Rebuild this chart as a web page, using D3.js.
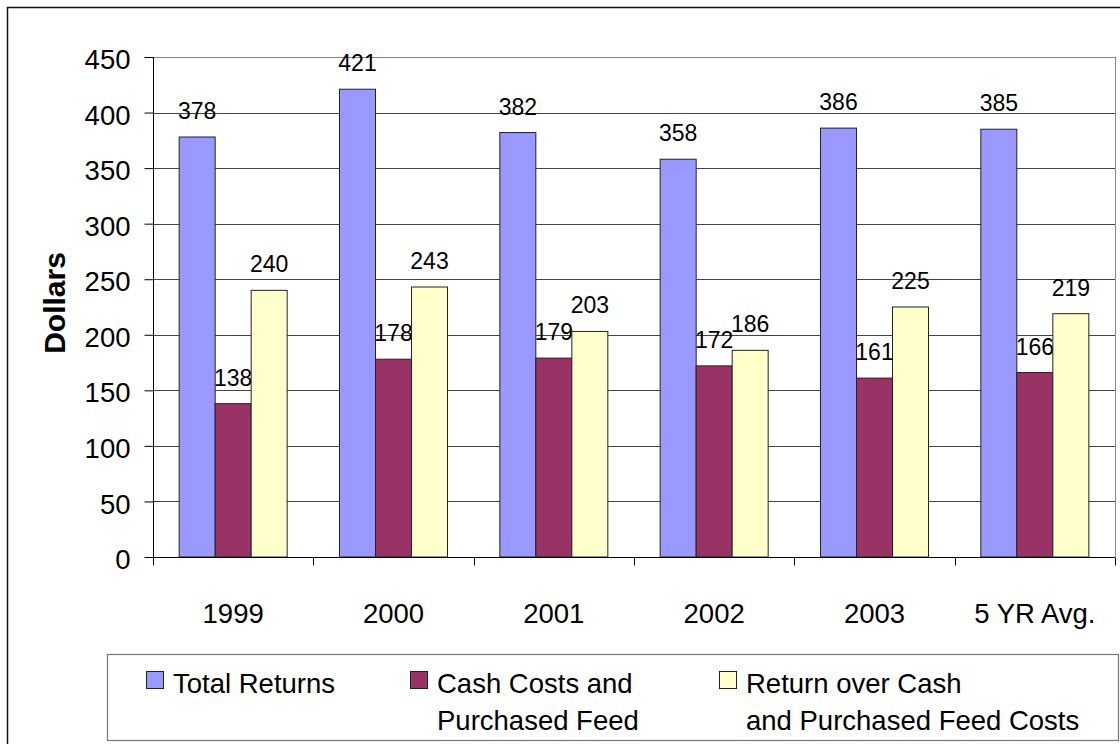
<!DOCTYPE html>
<html>
<head>
<meta charset="utf-8">
<script src="https://cdn.jsdelivr.net/npm/d3@7"></script>
<style>
  body { margin: 0; background: #fff; }
  text { font-family: "Liberation Sans", Arial, sans-serif; fill: #000; }
</style>
</head>
<body>
<div id="chart"></div>
<script>
var categories = ["1999", "2000", "2001", "2002", "2003", "5 YR Avg."];
var totalReturns = [378, 421, 382, 358, 386, 385];
var cashCosts = [138, 178, 179, 172, 161, 166];
var returnOver = [240, 243, 203, 186, 225, 219];
var seriesNames = ["Total Returns", "Cash Costs and|Purchased Feed", "Return over Cash|and Purchased Feed Costs"];
var color = ["#9999FF", "#993366", "#FFFFCC"];
var yTicks = [0, 50, 100, 150, 200, 250, 300, 350, 400, 450];

var series = [totalReturns, cashCosts, returnOver];

// plot area location
var plot = {left: 153, right: 1115, top: 57, bottom: 557};

var svg = d3.select("#chart")
  .append("svg")
    .attr("width", 1120)
    .attr("height", 744);

// outer chart border
svg.append("rect")
  .attr("x", 7.5).attr("y", 7.5)
  .attr("width", 1130).attr("height", 760)
  .attr("fill", "none")
  .attr("stroke", "#111")
  .attr("stroke-width", 1.5);

var x = d3.scaleBand()
  .domain(categories)
  .range([plot.left, plot.right])
  .padding(0);

var groupW = 108;
var x1 = d3.scaleBand()
  .domain([0, 1, 2])
  .range([(x.bandwidth() - groupW) / 2, (x.bandwidth() + groupW) / 2]);

var y = d3.scaleLinear()
  .domain([0, 450])
  .range([plot.bottom, plot.top]);

// gridlines
svg.append("g")
  .selectAll("line")
  .data(yTicks.filter(function(d) { return d > 0; }))
  .enter()
  .append("line")
    .attr("x1", plot.left).attr("x2", plot.right)
    .attr("y1", function(d) { return Math.round(y(d)) + 0.5; })
    .attr("y2", function(d) { return Math.round(y(d)) + 0.5; })
    .attr("stroke", function(d) { return d == 450 ? "#888" : "#444"; })
    .attr("stroke-width", 1);

// right border of plot area
svg.append("line")
  .attr("x1", plot.right + 0.5).attr("x2", plot.right + 0.5)
  .attr("y1", plot.top).attr("y2", plot.bottom)
  .attr("stroke", "#888");

// bars
for (var s = 0; s < 3; s++) {
  svg.append("g")
    .selectAll("rect")
    .data(series[s])
    .enter()
    .append("rect")
      .attr("x", function(d, i) { return x(categories[i]) + x1(s); })
      .attr("y", function(d) { return y(d); })
      .attr("width", x1.bandwidth())
      .attr("height", function(d) { return y(0) - y(d); })
      .attr("fill", color[s])
      .attr("stroke", "#222")
      .attr("stroke-width", 1);

  svg.append("g")
    .selectAll("text")
    .data(series[s])
    .enter()
    .append("text")
      .attr("x", function(d, i) { return x(categories[i]) + x1(s) + x1.bandwidth() / 2; })
      .attr("y", function(d) { return y(d) - 18; })
      .attr("text-anchor", "middle")
      .style("font-size", "23px")
      .text(function(d) { return d; });
}

// y axis
var yAxis = svg.append("g")
  .attr("transform", "translate(" + (plot.left + 0.5) + ",0)")
  .call(d3.axisLeft(y).tickValues(yTicks).tickSize(9).tickPadding(14));
yAxis.select(".domain").attr("stroke", "#000").attr("d", "M0," + plot.top + "V" + plot.bottom);
yAxis.selectAll(".tick line").attr("stroke", "#000");
yAxis.selectAll(".tick text")
  .style("font-size", "27.5px")
  .style("font-family", "'Liberation Sans', Arial, sans-serif")
  .attr("dy", "0.42em");

// x axis
var xAxis = svg.append("g")
  .attr("transform", "translate(0," + (plot.bottom + 0.5) + ")")
  .call(d3.axisBottom(x).tickSize(0).tickPadding(46));
xAxis.select(".domain").attr("stroke", "#000").attr("d", "M" + plot.left + ",0H" + plot.right);
xAxis.selectAll(".tick text")
  .style("font-size", "27.5px")
  .style("font-family", "'Liberation Sans', Arial, sans-serif");

// category boundary ticks
var bounds = categories.map(function(c) { return x(c); }).concat([plot.right]);
xAxis.selectAll(".bound")
  .data(bounds)
  .enter()
  .append("line")
    .attr("class", "bound")
    .attr("x1", function(d) { return Math.round(d) + 0.5; })
    .attr("x2", function(d) { return Math.round(d) + 0.5; })
    .attr("y1", 0).attr("y2", 8)
    .attr("stroke", "#000");

// y axis title
svg.append("text")
  .attr("transform", "translate(65," + ((plot.top + plot.bottom) / 2 - 4) + ") rotate(-90)")
  .attr("text-anchor", "middle")
  .style("font-size", "30px")
  .style("font-weight", "bold")
  .text("Dollars");

// legend
svg.append("rect")
  .attr("x", 107.5).attr("y", 654.5)
  .attr("width", 1011).attr("height", 86)
  .attr("fill", "#fff")
  .attr("stroke", "#777")
  .attr("stroke-width", 1.2);

var legendX = [146, 410, 719];
for (var i = 0; i < 3; i++) {
  svg.append("rect")
    .attr("x", legendX[i] + 0.5).attr("y", 671.5)
    .attr("width", 17).attr("height", 17)
    .attr("fill", color[i])
    .attr("stroke", "#222");
  var lines = seriesNames[i].split("|");
  for (var j = 0; j < lines.length; j++) {
    svg.append("text")
      .attr("x", legendX[i] + 27)
      .attr("y", 693 + j * 37)
      .style("font-size", "27.5px")
      .text(lines[j]);
  }
}
</script>
</body>
</html>
